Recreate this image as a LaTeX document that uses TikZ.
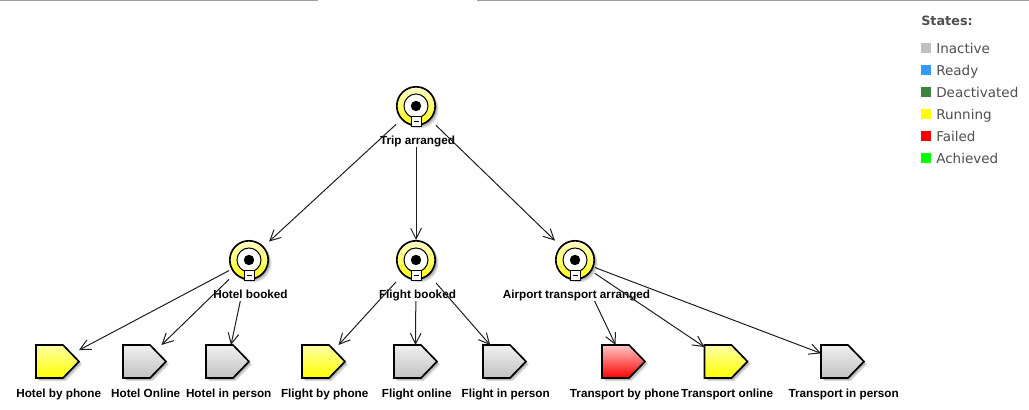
\documentclass[tikz,border=0pt]{standalone}
\usepackage{fontspec}
\setmainfont{Liberation Sans}
\newfontfamily\legendfont{DejaVu Sans}
\usetikzlibrary{arrows.meta}
\definecolor{legendtext}{HTML}{505050}
\definecolor{edgeink}{HTML}{1E1E1E}
\tikzset{
  x=0.75pt, y=-0.75pt,
  boundbox/.style={inner sep=0pt, outer sep=0pt, minimum width=#1*0.75pt},
  goalbox/.style={boundbox=40, minimum height=30pt},
  goalbody/.style={boundbox=40, minimum height=61.5pt},
  taskbox/.style={boundbox=43, minimum height=24.75pt},
  nodelabel/.style={font=\bfseries\fontsize{8.8}{11}\selectfont, text=black, inner sep=0pt, anchor=base},
  outline/.style={draw=black, line width=1.25pt, line join=miter},
  softshadow/.style={fill=black, opacity=0.13},
  link/.style={draw=edgeink, line width=0.75pt, -{Straight Barb[length=8pt,width=8pt]}},
  legendtitle/.style={font=\legendfont\bfseries\fontsize{9.6}{12}\selectfont, text=legendtext, anchor=base west, inner sep=0pt},
  legendentry/.style={font=\legendfont\fontsize{10.15}{12}\selectfont, text=legendtext, anchor=base west, inner sep=0pt},
  swatch/.style={minimum width=7.5pt, minimum height=7.5pt, inner sep=0pt, anchor=north west},
  topedge/.style={draw=black!38, line width=1.1pt},
}
% Achievable goal: yellow ring, target disc and collapse handle, with its caption
\newcommand{\goalnode}[4]{%
  \foreach \d in {1,2,3} {\fill[softshadow] (#2+\d,#3+\d) circle[radius=19.5*0.75pt];}
  \path[outline, top color=yellow!20, bottom color=yellow!95!white] (#2,#3) circle[radius=19.2*0.75pt];
  \draw[fill=white, draw=black, line width=0.75pt] (#2,#3) circle[radius=12*0.75pt];
  \fill[black] (#2,#3) circle[radius=5.2*0.75pt];
  \draw[fill=white, draw=black, line width=0.75pt] (#2-5,#3+10.5) rectangle (#2+5,#3+20.5);
  \draw[black, line width=0.75pt] (#2-2.5,#3+15.5) -- (#2+2.5,#3+15.5);
  \node[goalbox] (#1) at (#2,#3) {};
  \node[goalbody] (#1 body) at (#2,#3) {};
  \node[nodelabel] (#1 label) at (#2+1.5,#3+38) {#4};
}
% Task: pentagon tag with a vertical gradient, with its caption
\newcommand{\tasknode}[5]{%
  \foreach \d in {1,2,3} {\fill[softshadow] (#2-21.5+\d,345+\d) -- (#2+5.5+\d,345+\d) -- (#2+21.5+\d,361.5+\d) -- (#2+5.5+\d,378+\d) -- (#2-21.5+\d,378+\d) -- cycle;}
  \path[outline, top color=#3, bottom color=#4] (#2-21.5,345) -- (#2+5.5,345) -- (#2+21.5,361.5) -- (#2+5.5,378) -- (#2-21.5,378) -- cycle;
  \node[taskbox] (#1) at (#2,361.5) {};
  \node[nodelabel] (#1 label) at (#2+1.2,397.5) {#5};
}
\begin{document}
\begin{tikzpicture}
\useasboundingbox (0,0) rectangle (1029,410);
\fill[white] (0,0) rectangle (1029,410);

% Window edge along the top
\draw[topedge] (0,0.6) -- (318,0.6);
\draw[topedge] (477,0.6) -- (1029,0.6);

% Goals
\goalnode{trip}{416}{106}{Trip arranged}
\goalnode{hotel}{249}{260}{Hotel booked}
\goalnode{flight}{416}{260}{Flight booked}
\goalnode{airport}{575}{260}{Airport transport arranged}

% Tasks
\tasknode{hphone}{57.5}{yellow!35}{yellow}{Hotel by phone}
\tasknode{honline}{144.5}{black!6}{black!24}{Hotel Online}
\tasknode{hperson}{227.5}{black!6}{black!24}{Hotel in person}
\tasknode{fphone}{323.5}{yellow!35}{yellow}{Flight by phone}
\tasknode{fonline}{415.5}{black!6}{black!24}{Flight online}
\tasknode{fperson}{504.5}{black!6}{black!24}{Flight in person}
\tasknode{tphone}{623.5}{red!22}{red}{Transport by phone}
\tasknode{tonline}{726}{yellow!35}{yellow}{Transport online}
\tasknode{tperson}{842.5}{black!6}{black!24}{Transport in person}

% Refinement links
\draw[link] (trip body) -- (hotel);
\draw[link] (trip body) -- (flight);
\draw[link] (trip body) -- (airport);
\draw[link] (hotel body) -- (hphone);
\draw[link] (hotel body) -- (honline);
\draw[link] (hotel body) -- (hperson);
\draw[link] (flight body) -- (fphone);
\draw[link] (flight body) -- (fonline);
\draw[link] (flight body) -- (fperson);
\draw[link] (airport body) -- (tphone);
\draw[link] (airport body) -- (tonline);
\draw[link] (airport body) -- (tperson);

% State legend
\node[legendtitle] (states) at (921,26) {States:};
\foreach \name/\col/\yy in {Inactive/C0C0C0/43, Ready/3399FF/65, Deactivated/408040/87, Running/FFFF00/109, Failed/FF0000/131, Achieved/00FF00/153} {
  \definecolor{swatchcolor}{HTML}{\col}
  \node[swatch, fill=swatchcolor] (sw\name) at (921,\yy) {};
  \node[legendentry] (lb\name) at (936,\yy+10.5) {\name};
}
\end{tikzpicture}
\end{document}
